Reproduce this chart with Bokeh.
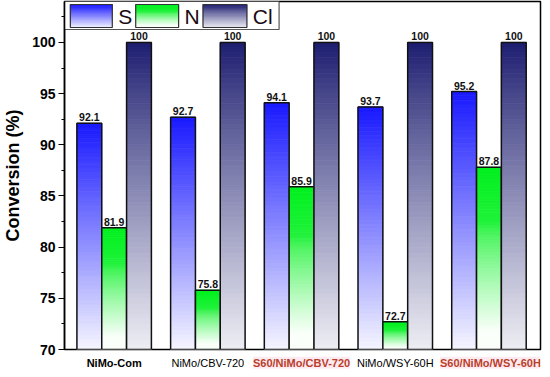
import numpy as np
from bokeh.plotting import figure
from bokeh.layouts import column
from bokeh.models import ColumnDataSource, Label, Range1d, SingleIntervalTicker
from bokeh.core.properties import value
from bokeh.embed import file_html
from bokeh.resources import INLINE

# ---------------- data ----------------
catalysts = ["NiMo-Com", "NiMo/CBV-720", "S60/NiMo/CBV-720", "NiMo/WSY-60H", "S60/NiMo/WSY-60H"]
s_conv = [92.1, 92.7, 94.1, 93.7, 95.2]
n_conv = [81.9, 75.8, 85.9, 72.7, 87.8]
cl_conv = [100, 100, 100, 100, 100]
series_names = ["S", "N", "Cl"]

# ---------------- layout constants ----------------
W, H, H2 = 542, 356, 13
BL, BR, BT, BB = 52, 2, 1, 7
FW, FH = W - BL - BR, H - BT - BB
X0, X1 = 0.47, 5.55
Y0, Y1 = 70, 104
BAR_W = 0.265
FONT = "Liberation Sans"


def px_x(px):
    return X0 + (X1 - X0) * px / FW


def px_y(py):  # pixels down from frame top
    return Y1 - (Y1 - Y0) * py / FH


def mix(c1, c2, t):
    return tuple(int(round(a + (b - a) * t)) for a, b in zip(c1, c2))


def hexc(c):
    return "#%02x%02x%02x" % c


def color_s(f):  # f: 0 top .. 1 bottom
    return hexc(mix((25, 25, 255), (246, 246, 255), f))


def color_n(f):
    w = min(max((f - 0.3) / 0.6, 0.0), 1.0) ** 0.8
    base = mix((0, 240, 30), (150, 250, 160), min(f / 0.35, 1.0) * 0.25)
    return hexc(mix(base, (250, 255, 250), w))


def color_cl(f):
    return hexc(mix((28, 28, 112), (238, 238, 244), f ** 0.9))


color_funcs = [color_s, color_n, color_cl]

xr = Range1d(X0, X1)
p = figure(width=W, height=H, output_backend="svg", toolbar_location=None,
           x_range=xr, y_range=Range1d(Y0, Y1),
           min_border_left=BL, min_border_right=BR, min_border_top=BT, min_border_bottom=BB)
p.xgrid.visible = False
p.ygrid.visible = False
p.xaxis.visible = False
p.outline_line_color = "black"
p.outline_line_width = 1.5
p.background_fill_color = "white"

yax = p.yaxis[0]
yax.ticker = SingleIntervalTicker(interval=5, num_minor_ticks=2)
yax.axis_line_width = 1.5
yax.axis_line_color = "black"
yax.major_tick_in = 0
yax.major_tick_out = 6
yax.minor_tick_in = 0
yax.minor_tick_out = 3
yax.major_tick_line_width = 1.2
yax.minor_tick_line_width = 1.2
yax.major_label_text_font = FONT
yax.major_label_text_font_style = "bold"
yax.major_label_text_font_size = "14px"
yax.major_label_text_color = "black"
yax.major_label_standoff = 3
yax.axis_label = "Conversion (%)"
yax.axis_label_text_font = FONT
yax.axis_label_text_font_style = "bold"
yax.axis_label_text_font_size = "18px"
yax.axis_label_text_color = "black"
yax.axis_label_standoff = 6

NS = 60
groups = np.arange(1, len(catalysts) + 1)
all_series = [s_conv, n_conv, cl_conv]
offsets = [-BAR_W, 0.0, BAR_W]

for vals, off, cf in zip(all_series, offsets, color_funcs):
    left, right, bottom, top, col = [], [], [], [], []
    for g, v in zip(groups, vals):
        for k in range(NS):
            b = Y0 + (v - Y0) * k / NS
            t = Y0 + (v - Y0) * (k + 1) / NS
            f = 1 - (k + 0.5) / NS
            left.append(g + off - BAR_W / 2)
            right.append(g + off + BAR_W / 2)
            bottom.append(b)
            top.append(t)
            col.append(cf(f))
    src = ColumnDataSource(dict(left=left, right=right, bottom=bottom, top=top, color=col))
    p.quad(left="left", right="right", bottom="bottom", top="top", source=src,
           fill_color="color", line_color="color", line_width=0.8)
    bx = [g + off for g in groups]
    p.vbar(x=bx, top=vals, bottom=Y0, width=BAR_W, fill_color=None,
           line_color="#111111", line_width=1.5)
    p.text(x=bx, y=vals, text=[f"{v:g}" for v in vals], text_align="center",
           text_baseline="bottom", y_offset=-2, text_font=value(FONT),
           text_font_style="bold", text_font_size="10.5px", text_color="#111111")

# ---------------- legend ----------------
p.quad(left=[px_x(0)], right=[px_x(220)], bottom=[px_y(28)], top=[px_y(0)],
       fill_color="white", line_color="#555555", line_width=1.2)
sw_x = [(6, 49), (73, 117), (142, 187)]
txt_x = [55, 123, 193]
for (a, b), tx, name, cf in zip(sw_x, txt_x, series_names, color_funcs):
    L, R = px_x(a), px_x(b)
    top_y, bot_y = px_y(3), px_y(26)
    ns = 20
    lq, rq, bq, tq, cq = [], [], [], [], []
    for k in range(ns):
        lq.append(L); rq.append(R)
        bq.append(bot_y + (top_y - bot_y) * k / ns)
        tq.append(bot_y + (top_y - bot_y) * (k + 1) / ns)
        cq.append(cf(1 - (k + 0.5) / ns))
    p.quad(left=lq, right=rq, bottom=bq, top=tq, fill_color=cq, line_color=cq, line_width=0.8)
    p.quad(left=[L], right=[R], bottom=[bot_y], top=[top_y], fill_color=None,
           line_color="#333333", line_width=1.2)
    p.text(x=[px_x(tx)], y=[px_y(15)], text=[name], text_align="left", text_baseline="middle",
           text_font=value(FONT), text_font_size="21px", text_color="#1a0a14")

# ---------------- category labels (strip below the plot) ----------------
p2 = figure(width=W, height=H2, output_backend="svg", toolbar_location=None,
            x_range=xr, y_range=Range1d(0, 1),
            min_border_left=BL, min_border_right=BR, min_border_top=0, min_border_bottom=0)
p2.axis.visible = False
p2.grid.visible = False
p2.outline_line_color = None
label_styles = [("bold", "black", None, 0), ("normal", "black", None, 0),
                ("bold", "#b8402a", "#fdeaf0", 0), ("normal", "black", None, 0),
                ("bold", "#b8402a", "#fdeaf0", 1.5)]
for g, name, (st, colr, bg, dpx) in zip(groups, catalysts, label_styles):
    lab = Label(x=g, y=1, x_offset=dpx, y_offset=0, text=name, text_align="center",
                text_baseline="top", text_font=FONT, text_font_style=st,
                text_font_size="11px", text_color=colr, padding=0)
    if bg:
        lab.background_fill_color = bg
    p2.add_layout(lab)

layout = column(p, p2, spacing=0)
open("out.html", "w").write(file_html(layout, INLINE))
